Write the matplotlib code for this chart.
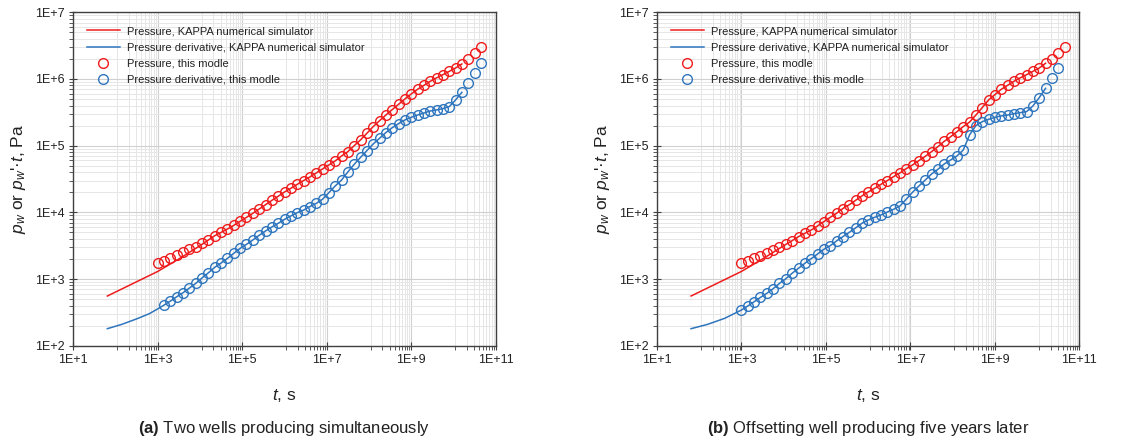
import numpy as np
import matplotlib
matplotlib.use("Agg")
import matplotlib.pyplot as plt
from matplotlib.ticker import FixedLocator, FuncFormatter, NullFormatter

plt.rcParams['font.family'] = ['Liberation Sans', 'DejaVu Sans']
plt.rcParams['mathtext.fontset'] = 'custom'
plt.rcParams['mathtext.rm'] = 'Liberation Sans'
plt.rcParams['mathtext.it'] = 'Liberation Sans:italic'
plt.rcParams['mathtext.bf'] = 'Liberation Sans:bold'

# ---------------- data ----------------
# time of the model points (s)
t_model = [1.00e3, 1.41e3, 2.00e3, 2.82e3, 3.98e3, 5.62e3, 7.94e3, 1.12e4, 1.58e4, 2.24e4,
           3.16e4, 4.47e4, 6.31e4, 8.91e4, 1.26e5, 1.78e5, 2.51e5, 3.55e5, 5.01e5, 7.08e5,
           1.00e6, 1.41e6, 2.00e6, 2.82e6, 3.98e6, 5.62e6, 7.94e6, 1.12e7, 1.58e7, 2.24e7,
           3.16e7, 4.47e7, 6.31e7, 8.91e7, 1.26e8, 1.78e8, 2.51e8, 3.55e8, 5.01e8, 7.08e8,
           1.00e9, 1.41e9, 2.00e9, 2.82e9, 3.98e9, 5.62e9, 7.94e9, 1.12e10, 1.58e10, 2.24e10,
           3.16e10, 4.47e10]

# (a) two wells producing simultaneously
a_pres_model = [1.72e3, 1.88e3, 2.04e3, 2.29e3, 2.51e3, 2.79e3, 3.05e3, 3.43e3, 3.85e3, 4.47e3,
                5.01e3, 5.62e3, 6.38e3, 7.33e3, 8.41e3, 9.66e3, 1.12e4, 1.30e4, 1.51e4, 1.74e4,
                2.02e4, 2.29e4, 2.63e4, 2.99e4, 3.39e4, 3.89e4, 4.47e4, 5.13e4, 5.89e4, 7.00e4,
                8.13e4, 1.00e5, 1.22e5, 1.53e5, 1.93e5, 2.37e5, 2.88e5, 3.47e5, 4.17e5, 5.01e5,
                5.96e5, 7.00e5, 8.04e5, 9.23e5, 1.04e6, 1.16e6, 1.30e6, 1.46e6, 1.68e6, 2.00e6,
                2.43e6, 3.05e6]
a_deriv_model = [407, 468, 543, 624, 733, 861, 1.04e3, 1.24e3, 1.50e3, 1.74e3,
                 2.04e3, 2.43e3, 2.88e3, 3.31e3, 3.85e3, 4.52e3, 5.25e3, 6.03e3, 6.84e3, 7.85e3,
                 8.81e3, 9.89e3, 1.08e4, 1.22e4, 1.36e4, 1.57e4, 1.97e4, 2.48e4, 3.05e4, 4.03e4,
                 5.25e4, 6.68e4, 8.41e4, 1.06e5, 1.29e5, 1.57e5, 1.86e5, 2.14e5, 2.43e5, 2.66e5,
                 2.88e5, 3.09e5, 3.31e5, 3.43e5, 3.59e5, 3.85e5, 4.84e5, 6.31e5, 8.81e5, 1.24e6,
                 1.76e6]   # starts at t_model[1]

# (b) offsetting well producing five years later
b_pres_model = [1.76e3, 1.88e3, 2.04e3, 2.21e3, 2.43e3, 2.72e3, 2.99e3, 3.35e3, 3.76e3, 4.32e3,
                4.84e3, 5.43e3, 6.24e3, 7.24e3, 8.41e3, 9.66e3, 1.14e4, 1.30e4, 1.51e4, 1.76e4,
                2.02e4, 2.29e4, 2.63e4, 2.99e4, 3.43e4, 3.89e4, 4.52e4, 5.13e4, 5.96e4, 6.92e4,
                8.13e4, 9.66e4, 1.16e5, 1.36e5, 1.62e5, 1.93e5, 2.26e5, 2.88e5, 3.72e5, 4.84e5,
                5.82e5, 7.00e5, 8.04e5, 9.23e5, 1.04e6, 1.16e6, 1.30e6, 1.46e6, 1.72e6, 2.00e6,
                2.48e6, 3.05e6]
b_deriv_model = [343, 394, 457, 531, 610, 716, 861, 1.01e3, 1.22e3, 1.45e3,
                 1.72e3, 2.02e3, 2.37e3, 2.79e3, 3.16e3, 3.72e3, 4.32e3, 5.01e3, 5.82e3, 6.84e3,
                 7.67e3, 8.41e3, 9.12e3, 1.01e4, 1.11e4, 1.24e4, 1.57e4, 2.00e4, 2.48e4, 3.05e4,
                 3.76e4, 4.42e4, 5.31e4, 6.10e4, 7.00e4, 8.61e4, 1.45e5, 2.00e5, 2.29e5, 2.48e5,
                 2.66e5, 2.79e5, 2.88e5, 3.02e5, 3.13e5, 3.24e5, 3.94e5, 5.25e5, 7.24e5, 1.02e6,
                 1.46e6]   # starts at t_model[0]

# KAPPA simulator: early-time portions (before they coincide with the model points)
sim_pres_early_t = [64, 1.0e3, 3.16e3, 1.0e4]
sim_pres_early_p = [556, 1.30e3, 2.0e3, 3.16e3]
a_sim_deriv_early_t = [64, 1.41e2, 3.24e2, 6.3e2, 1.12e3]
a_sim_deriv_early_p = [180, 209, 254, 302, 372]
b_sim_deriv_early_t = [64, 1.58e2, 3.98e2]
b_sim_deriv_early_p = [180, 209, 257]
sim_end_t = 1.58e10  # simulator curves stop here

legend_labels = ["Pressure, KAPPA numerical simulator",
                 "Pressure derivative, KAPPA numerical simulator",
                 "Pressure, this modle",
                 "Pressure derivative, this modle"]
captions = [("(a)", "Two wells producing simultaneously"),
            ("(b)", "Offsetting well producing five years later")]

RED = '#ee1c1c'
BLUE = '#2e75bd'


def sim_curve(early_t, early_p, t_pts, p_pts):
    t = list(early_t)
    p = list(early_p)
    for ti, pi in zip(t_pts, p_pts):
        if ti > early_t[-1] * 1.2 and ti <= sim_end_t * 1.01:
            t.append(ti)
            p.append(pi)
    return t, p


fig = plt.figure(figsize=(11.46, 4.43), dpi=100)
W, H = 1146, 443
ax_w = 422.4 / W
ax_h = 333.4 / H
ax_b = (H - 345.7) / H
axes = [fig.add_axes([73.3 / W, ax_b, ax_w, ax_h]),
        fig.add_axes([657.0 / W, ax_b, ax_w, ax_h])]

panels = [
    (a_pres_model, t_model[1:], a_deriv_model, a_sim_deriv_early_t, a_sim_deriv_early_p),
    (b_pres_model, t_model[:len(b_deriv_model)], b_deriv_model, b_sim_deriv_early_t, b_sim_deriv_early_p),
]

# Excel-like minor ticks on x (base-100 style)
xminor = []
for e in range(1, 11, 2):
    lo, hi = 10.0 ** e, 10.0 ** (e + 2)
    for j in range(1, 10):
        xminor.append(lo + j * (hi - lo) / 10)
yminor = []
for e in range(2, 7):
    for j in range(2, 10):
        yminor.append(j * 10.0 ** e)

for ax, (pres, dt, deriv, de_t, de_p), cap, fx in zip(axes, panels, captions, [284.5, 868.0]):
    st, sp = sim_curve(sim_pres_early_t, sim_pres_early_p, t_model, pres)
    dt_s, dp_s = sim_curve(de_t, de_p, dt, deriv)
    ax.plot(st, sp, color=RED, lw=1.1, label=legend_labels[0], zorder=3)
    ax.plot(dt_s, dp_s, color=BLUE, lw=1.1, label=legend_labels[1], zorder=3)
    ax.plot(t_model, pres, 'o', mfc='none', mec=RED, ms=7.0, mew=1.0,
            label=legend_labels[2], zorder=4)
    ax.plot(dt, deriv, 'o', mfc='none', mec=BLUE, ms=7.0, mew=1.0,
            label=legend_labels[3], zorder=4)

    ax.set_xscale('log')
    ax.set_yscale('log')
    ax.set_xlim(1e1, 1e11)
    ax.set_ylim(1e2, 1e7)
    ax.xaxis.set_major_locator(FixedLocator([10.0 ** e for e in range(1, 12, 2)]))
    ax.xaxis.set_minor_locator(FixedLocator(xminor))
    ax.yaxis.set_major_locator(FixedLocator([10.0 ** e for e in range(2, 8)]))
    ax.yaxis.set_minor_locator(FixedLocator(yminor))
    fmt = FuncFormatter(lambda v, pos: "1E+%d" % int(round(np.log10(v))))
    ax.xaxis.set_major_formatter(fmt)
    ax.yaxis.set_major_formatter(fmt)
    ax.xaxis.set_minor_formatter(NullFormatter())
    ax.yaxis.set_minor_formatter(NullFormatter())
    ax.tick_params(which='major', direction='inout', length=6, width=0.8,
                   colors='#404040', labelcolor='#222222', labelsize=9, pad=3)
    ax.tick_params(which='minor', direction='out', length=3, width=0.6, colors='#404040')
    ax.grid(which='major', color='#d0d0d0', lw=0.8, zorder=0)
    ax.grid(which='minor', color='#e6e6e6', lw=0.7, zorder=0)
    ax.set_axisbelow(True)
    for s in ax.spines.values():
        s.set_color('#404040')
        s.set_linewidth(1.0)

    leg = ax.legend(loc='upper left', bbox_to_anchor=(0.032, 0.958), frameon=False,
                    fontsize=8.0, handlelength=3.0, handletextpad=0.65,
                    labelspacing=0.55, borderpad=0, borderaxespad=0)
    for txt in leg.get_texts():
        txt.set_color('#222222')

    fig.text((fx - 266) / W, 1 - 179 / H, "$p_w$ or $p_w$'·$t$, Pa", rotation=90,
             ha='center', va='center', fontsize=12.5, color='#222222')
    fig.text(fx / W, 1 - 395 / H, "$t$, s", ha='center', va='center',
             fontsize=12.5, color='#222222')
    fig.text(fx / W, 1 - 428 / H, r"$\mathbf{%s}$ %s" % cap, ha='center', va='center',
             fontsize=12, color='#222222')

fig.savefig("out.png", dpi=100)
